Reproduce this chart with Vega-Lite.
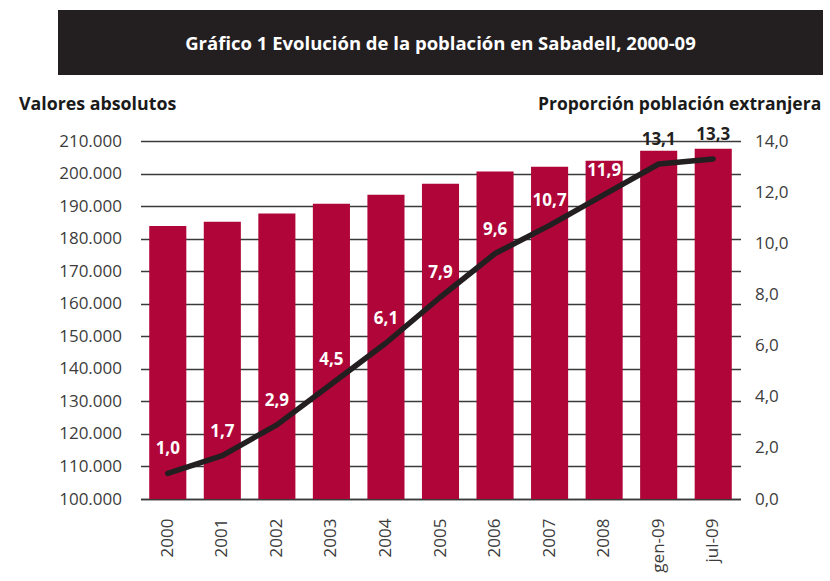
{
  "$schema": "https://vega.github.io/schema/vega-lite/v6.json",
  "padding": {"left": 18, "top": 10, "right": 0, "bottom": 0},
  "background": "white",
  "config": {
    "locale": {"number": {"decimal": ",", "thousands": ".", "grouping": [3], "currency": ["", " €"]}},
    "view": {"stroke": null},
    "font": "Open Sans"
  },
  "center": true,
  "bounds": "flush",
  "spacing": 66,
  "vconcat": [
    {
      "width": 765,
      "height": 65,
      "view": {"fill": "#231f20", "stroke": null},
      "data": {"values": [{"titulo": "Gráfico 1 Evolución de la población en Sabadell, 2000-09"}]},
      "mark": {"type": "text", "color": "white", "fontWeight": "bold", "fontSize": 18.5, "font": "Open Sans", "dy": 1},
      "encoding": {"text": {"field": "titulo", "type": "nominal"}}
    },
    {
      "width": 600,
      "height": 358,
      "data": {"values": [
        {"periodo": "2000", "poblacion": 183900, "extranjera": 1.0},
        {"periodo": "2001", "poblacion": 185200, "extranjera": 1.7},
        {"periodo": "2002", "poblacion": 187700, "extranjera": 2.9},
        {"periodo": "2003", "poblacion": 190700, "extranjera": 4.5},
        {"periodo": "2004", "poblacion": 193500, "extranjera": 6.1},
        {"periodo": "2005", "poblacion": 196900, "extranjera": 7.9},
        {"periodo": "2006", "poblacion": 200600, "extranjera": 9.6},
        {"periodo": "2007", "poblacion": 202100, "extranjera": 10.7},
        {"periodo": "2008", "poblacion": 203900, "extranjera": 11.9},
        {"periodo": "gen-09", "poblacion": 207000, "extranjera": 13.1},
        {"periodo": "jul-09", "poblacion": 207600, "extranjera": 13.3}
      ]},
      "encoding": {
        "x": {
          "field": "periodo", "type": "ordinal", "sort": null,
          "scale": {"paddingInner": 0.32, "paddingOuter": 0.16},
          "axis": {
            "title": null, "labelAngle": -90, "labelFontSize": 17, "labelColor": "#3c3c3c",
            "labelPadding": 19, "ticks": false, "domain": true, "domainColor": "#3a3a3a", "domainWidth": 1.5,
            "labelFont": "Open Sans"
          }
        }
      },
      "layer": [
        {
          "mark": {"type": "bar", "color": "#b00538", "clip": true},
          "encoding": {
            "y": {
              "field": "poblacion", "type": "quantitative",
              "scale": {"domain": [100000, 210000], "zero": false, "nice": false},
              "axis": {
                "values": [100000, 110000, 120000, 130000, 140000, 150000, 160000, 170000, 180000, 190000, 200000, 210000],
                "format": ",.0f",
                "grid": true, "gridColor": "#3a3a3a", "gridWidth": 1.5,
                "ticks": false, "domain": false,
                "labelFontSize": 17, "labelColor": "#3c3c3c", "labelPadding": 19, "labelFont": "Open Sans",
                "title": "Valores absolutos",
                "titleAngle": 0, "titleAlign": "left", "titleBaseline": "alphabetic",
                "titleX": -122, "titleY": -32,
                "titleFontSize": 17.8, "titleFontWeight": "bold", "titleColor": "#1a1a1a", "titleFont": "Open Sans"
              }
            }
          }
        },
        {
          "encoding": {
            "y": {
              "field": "extranjera", "type": "quantitative",
              "scale": {"domain": [0, 14], "nice": false},
              "axis": {
                "orient": "right",
                "values": [0, 2, 4, 6, 8, 10, 12, 14],
                "format": ".1f",
                "grid": false, "ticks": false, "domain": false,
                "labelFontSize": 17, "labelColor": "#3c3c3c", "labelPadding": 14, "labelFont": "Open Sans",
                "title": "Proporción población extranjera",
                "titleAngle": 0, "titleAlign": "left", "titleBaseline": "alphabetic",
                "titleX": -203, "titleY": -32,
                "titleFontSize": 17.5, "titleFontWeight": "bold", "titleColor": "#1a1a1a", "titleFont": "Open Sans"
              }
            }
          },
          "layer": [
            {
              "mark": {"type": "line", "color": "#231f20", "strokeWidth": 5.5, "strokeCap": "round", "strokeJoin": "round"}
            },
            {
              "mark": {"type": "text", "fontWeight": "bold", "fontSize": 17, "dy": -24, "font": "Open Sans"},
              "encoding": {
                "text": {"field": "extranjera", "type": "quantitative", "format": ".1f"},
                "color": {
                  "condition": {"test": "datum.extranjera > 13", "value": "#231f20"},
                  "value": "white"
                }
              }
            }
          ]
        }
      ],
      "resolve": {"scale": {"y": "independent"}}
    }
  ]
}
